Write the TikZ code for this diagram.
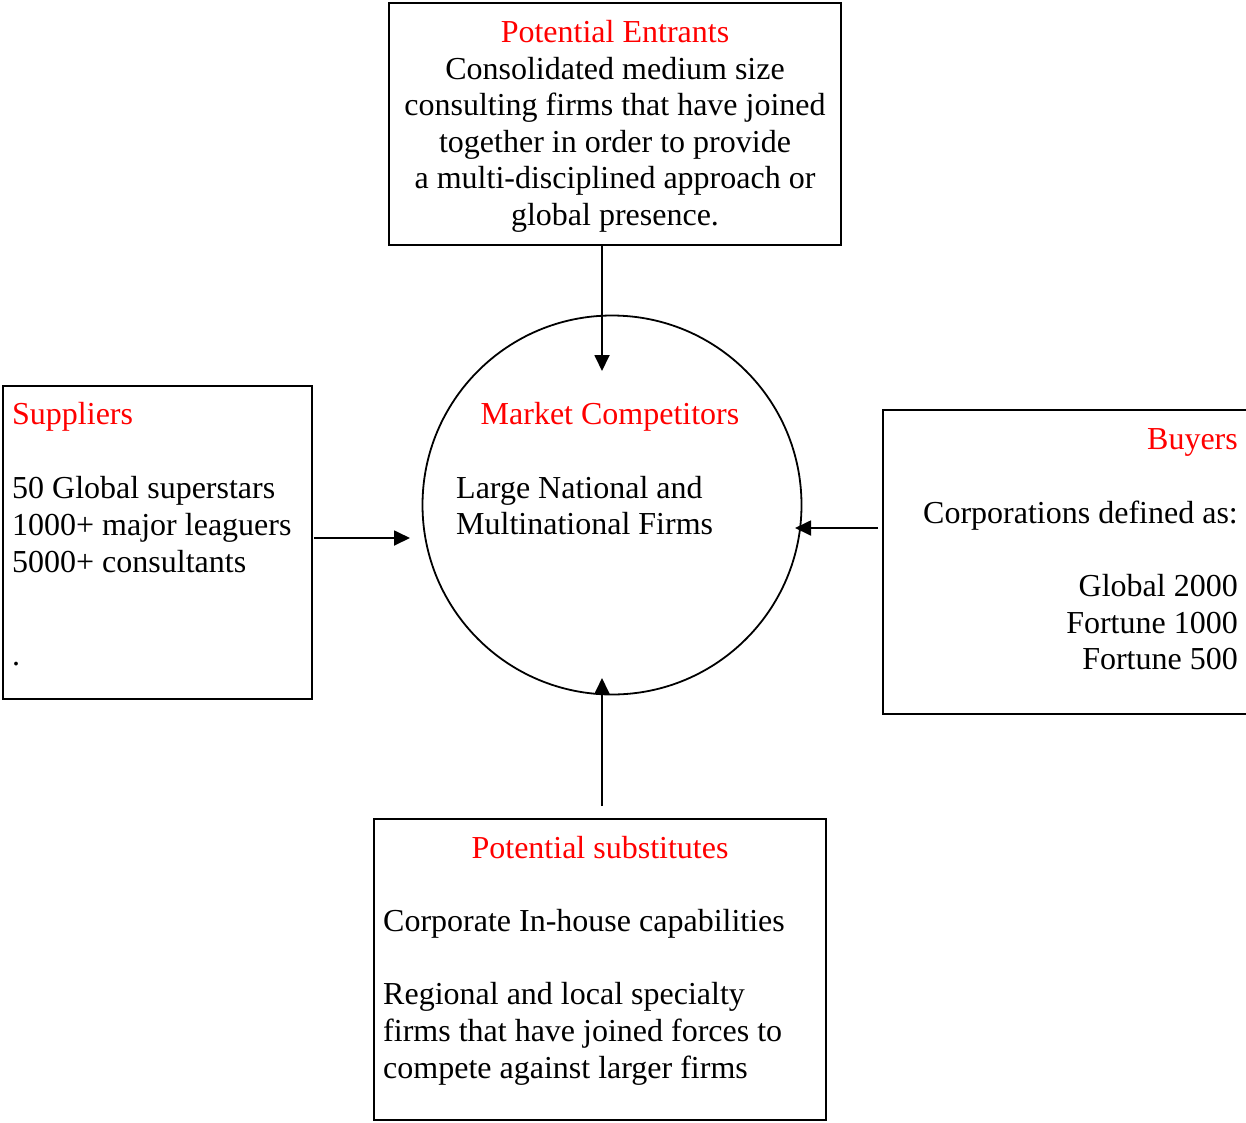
\documentclass[tikz,border=0pt]{standalone}
\usepackage{fontspec}
\setmainfont{Liberation Serif}
\usetikzlibrary{arrows.meta}
\definecolor{titlered}{RGB}{255,0,0}
\begin{document}
\begin{tikzpicture}[x=1pt,y=-1pt,
  box/.style={draw, line width=1.8pt, inner sep=0pt},
  txt/.style={inner sep=0pt, font=\fontsize{32}{37}\selectfont},
  ttl/.style={txt, text=titlered},
  arr/.style={line width=1.8pt, -{Triangle[length=16pt,width=15pt]}}]
\useasboundingbox (0,0) rectangle (1246,1122);
% boxes
\node[box, minimum width=452pt, minimum height=242pt] (pe) at (615,124) {};
\node[box, minimum width=309pt, minimum height=313pt] (sup) at (157.5,542.5) {};
\node[box, minimum width=369pt, minimum height=304pt] (buy) at (1067.5,562) {};
\node[box, minimum width=452pt, minimum height=301pt] (sub) at (600,969.5) {};
\node[draw, circle, line width=1.8pt, inner sep=0pt, minimum size=379pt] (mc) at (612,505) {};
% potential entrants
\node[ttl, anchor=base] (peT) at (615,42) {Potential Entrants};
\node[txt, anchor=base] (pe1) at (615,79) {Consolidated medium size};
\node[txt, anchor=base] (pe2) at (615,115.6) {consulting firms that have joined};
\node[txt, anchor=base] (pe3) at (615,152.2) {together in order to provide};
\node[txt, anchor=base] (pe4) at (615,188.8) {a multi-disciplined approach or};
\node[txt, anchor=base] (pe5) at (615,225.4) {global presence.};
% suppliers
\node[ttl, anchor=base west] (supT) at (12,424) {Suppliers};
\node[txt, anchor=base west] (sup1) at (12,498) {50 Global superstars};
\node[txt, anchor=base west] (sup2) at (12,535) {1000+ major leaguers};
\node[txt, anchor=base west] (sup3) at (12,572) {5000+ consultants};
\node[txt, anchor=base west] (sup4) at (12,665) {.};
% market competitors
\node[ttl, anchor=base] (mcT) at (610,424) {Market Competitors};
\node[txt, anchor=base west] (mc1) at (456,498) {Large National and};
\node[txt, anchor=base west] (mc2) at (456,534) {Multinational Firms};
% buyers
\node[ttl, anchor=base east] (buyT) at (1238,449) {Buyers};
\node[txt, anchor=base east] (buy1) at (1238,523) {Corporations defined as:};
\node[txt, anchor=base east] (buy2) at (1238,596) {Global 2000};
\node[txt, anchor=base east] (buy3) at (1238,633) {Fortune 1000};
\node[txt, anchor=base east] (buy4) at (1238,669) {Fortune 500};
% substitutes
\node[ttl, anchor=base] (subT) at (600,858) {Potential substitutes};
\node[txt, anchor=base west] (sub1) at (383,931) {Corporate In-house capabilities};
\node[txt, anchor=base west] (sub2) at (383,1004) {Regional and local specialty};
\node[txt, anchor=base west] (sub3) at (383,1041) {firms that have joined forces to};
\node[txt, anchor=base west] (sub4) at (383,1078) {compete against larger firms};
% connectors
\coordinate (peTip) at (602,371);
\coordinate (supTip) at (410,538);
\coordinate (buyTip) at (795,528);
\coordinate (subTip) at (602,678);
\draw[arr] (pe.south -| peTip) -- (peTip);
\draw[arr] ([xshift=1pt]sup.east |- supTip) -- (supTip);
\draw[arr] ([xshift=-4pt]buy.west |- buyTip) -- (buyTip);
\draw[arr] ([yshift=12pt]sub.north -| subTip) -- (subTip);
\end{tikzpicture}
\end{document}
